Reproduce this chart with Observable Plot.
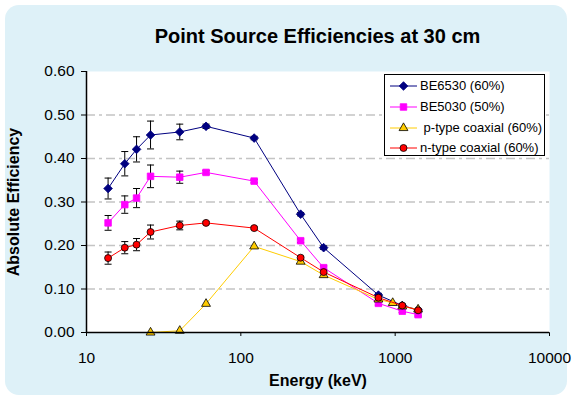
<!DOCTYPE html>
<html><head><meta charset="utf-8">
<script src="https://cdn.jsdelivr.net/npm/d3@7"></script>
<script src="https://cdn.jsdelivr.net/npm/@observablehq/plot@0.6"></script>
<style>
body{margin:0;background:#fff;font-family:"Liberation Sans",Arial,sans-serif;}
#wrap{position:relative;width:572px;height:398px;overflow:hidden;}
#bg{position:absolute;left:5px;top:5px;width:562px;height:390px;background:#def1f8;border-radius:14px;}
#title{position:absolute;left:86px;width:463px;top:25px;text-align:center;font-weight:bold;font-size:20px;color:#000;}
#chart{position:absolute;left:0;top:0;}
#chart g[aria-label="x-axis label"], #chart g[aria-label="y-axis label"]{font-weight:bold;font-size:16px;}
#legend{position:absolute;left:384px;top:74px;width:159px;height:80px;background:#fff;border:1px solid #000;font-size:13px;}
.item{position:absolute;left:0;height:16px;white-space:pre;}
.item svg{position:absolute;left:0;top:0;}
.item span{position:absolute;left:35px;top:0px;line-height:16px;}
</style></head>
<body>
<div id="wrap">
  <div id="bg"></div>
  <div id="title">Point Source Efficiencies at 30 cm</div>
  <div id="chart"></div>
  <div id="legend"></div>
</div>
<script>
// ---- data ----
const energy = [13.8, 17.7, 21.1, 26.0, 40.2, 59.5, 122, 244, 344, 779, 964, 1112, 1408];
const seriesNames = ["BE6530 (60%)", "BE5030 (50%)", "p-type coaxial (60%)", "n-type coaxial (60%)"];
const be6530  = [0.331, 0.388, 0.421, 0.454, 0.461, 0.474, 0.447, 0.272, 0.195, 0.086, null, 0.062, 0.052];
const be6530Err = [0.024, 0.028, 0.029, 0.032, 0.018, 0.005, 0.004, 0.004, 0.004, 0.004, null, 0.003, 0.003];
const be5030  = [0.252, 0.294, 0.309, 0.359, 0.357, 0.368, 0.348, 0.211, 0.149, 0.067, null, 0.049, 0.041];
const be5030Err = [0.017, 0.020, 0.022, 0.026, 0.014, 0.004, 0.004, 0.004, 0.004, 0.004, null, 0.003, 0.003];
const ptype   = [null, null, null, 0.000, 0.004, 0.066, 0.198, 0.163, 0.132, 0.076, 0.068, 0.060, 0.053];
const ntype   = [0.171, 0.195, 0.202, 0.231, 0.246, 0.252, 0.240, 0.172, 0.139, 0.080, null, 0.062, 0.051];
const ntypeErr  = [0.014, 0.014, 0.014, 0.016, 0.010, 0.003, 0.003, 0.003, 0.003, 0.003, null, 0.003, 0.003];
const xTicks = [10, 100, 1000, 10000];
const yTicks = [0, 0.1, 0.2, 0.3, 0.4, 0.5, 0.6];
const gridLevels = [0.1, 0.2, 0.3, 0.4, 0.5];

// ---- styles ----
const styles = [
  {stroke: "#000080", fill: "#000080", mstroke: "#000080", symbol: "diamond2", r: 3.9},
  {stroke: "#ff00ff", fill: "#ff00ff", mstroke: "#ff00ff", symbol: "square", r: 3.7},
  {stroke: "#ffcc00", fill: "#ffcc00", mstroke: "#000000", symbol: "triangle", r: 3.3},
  {stroke: "#ff0000", fill: "#ff0000", mstroke: "#000000", symbol: "circle", r: 3.5}
];
const values = [be6530, be5030, ptype, ntype];
const errs = [be6530Err, be5030Err, null, ntypeErr];

function rows(vals, errArr, name) {
  const out = [];
  vals.forEach((v, i) => {
    if (v == null) return;
    const e = errArr ? errArr[i] : null;
    out.push({energy: energy[i], eff: v, lo: e != null ? v - e : null, hi: e != null ? v + e : null, series: name});
  });
  return out;
}
const seriesRows = values.map((v, i) => rows(v, errs[i], seriesNames[i]));
const errRows = seriesRows.flat().filter(d => d.lo != null);

const cap = {draw(context) { context.moveTo(-3.5, 0); context.lineTo(3.5, 0); }};

const marks = [
  Plot.frame({fill: "white", stroke: "none"}),
  Plot.ruleY(gridLevels, {stroke: "#c4c4c4", strokeWidth: 1.5, strokeDasharray: "9,4,3,4"}),
  Plot.ruleX(errRows, {x: "energy", y1: "lo", y2: "hi", stroke: "black", strokeWidth: 1}),
  Plot.dot(errRows, {x: "energy", y: "lo", symbol: cap, stroke: "black", strokeWidth: 1, r: 3}),
  Plot.dot(errRows, {x: "energy", y: "hi", symbol: cap, stroke: "black", strokeWidth: 1, r: 3}),
];
seriesRows.forEach((data, i) => {
  const s = styles[i];
  marks.push(Plot.line(data, {x: "energy", y: "eff", stroke: s.stroke, strokeWidth: 1}));
  marks.push(Plot.dot(data, {x: "energy", y: "eff", symbol: s.symbol, r: s.r, fill: s.fill, stroke: s.mstroke, strokeWidth: 0.8}));
});
marks.push(Plot.ruleX([10], {stroke: "black", strokeWidth: 1.5}));
marks.push(Plot.ruleY([0], {stroke: "black", strokeWidth: 1.5}));

const chart = Plot.plot({
  width: 572, height: 398,
  marginLeft: 86, marginRight: 23, marginTop: 71, marginBottom: 66,
  style: {background: "transparent", fontSize: "15.5px", fontFamily: "'Liberation Sans', Arial, sans-serif", color: "black"},
  x: {type: "log", domain: [10, 10000], ticks: xTicks, tickFormat: d3.format("d"), tickSize: 4, tickPadding: 15,
      label: "Energy (keV)", labelAnchor: "center", labelOffset: 53, labelArrow: "none"},
  y: {domain: [0, 0.6], ticks: yTicks, tickFormat: d3.format(".2f"), tickSize: 5, tickPadding: 7,
      label: "Absolute Efficiency", labelAnchor: "center", labelOffset: 79, labelArrow: "none"},
  marks
});
document.getElementById("chart").appendChild(chart);

// ---- legend ----
const legend = document.getElementById("legend");
const rowsY = [3, 24, 45, 65];
seriesNames.forEach((name, i) => {
  const s = styles[i];
  const item = document.createElement("div");
  item.className = "item";
  item.style.top = rowsY[i] + "px";
  item.style.width = "158px";
  const size = s.r * s.r * Math.PI;
  const symMap = {diamond2: d3.symbolDiamond2, square: d3.symbolSquare, triangle: d3.symbolTriangle, circle: d3.symbolCircle};
  const path = d3.symbol(symMap[s.symbol], size)();
  item.innerHTML = `<svg width="34" height="16"><line x1="5" x2="32" y1="8" y2="8" stroke="${s.stroke}" stroke-width="1"/>` +
    `<path d="${path}" transform="translate(18.5,8)" fill="${s.fill}" stroke="${s.mstroke}" stroke-width="0.8"/></svg>` +
    `<span>${i === 2 ? " " : ""}${name}</span>`;
  legend.appendChild(item);
});
</script>
</body></html>
